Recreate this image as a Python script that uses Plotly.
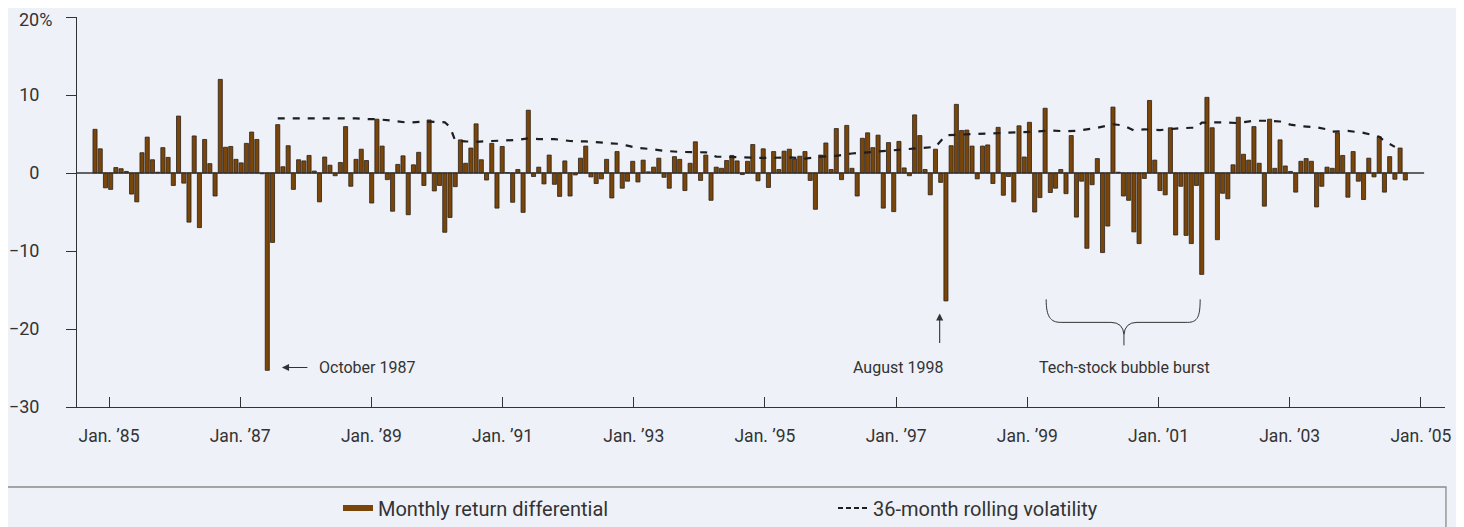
import plotly.graph_objects as go

# ---------------- data ----------------
# Monthly return differential (%), Jan 1985 .. Dec 2005 (252 months)
returns = [
    5.6, 3.1, -1.9, -2.1, 0.7, 0.55, 0.2, -2.7, -3.7, 2.6, 4.6, 1.7, 0.1, 3.25, 2.0, -1.6, 7.3, -1.3, -6.3, 4.75, -7.0, 4.3, 1.2, -2.95, 12.0,
    3.3, 3.4, 1.75, 1.3, 3.8, 5.25, 4.3, -0.1, -25.3, -8.9, 6.2, 0.8, 3.5, -2.1, 1.7, 1.55, 2.25, 0.25, -3.7, 2.05, 1.0, -0.35, 1.35, 5.95, -1.7,
    1.75, 3.05, 1.6, -3.85, 6.9, 3.45, -0.85, -4.9, 1.1, 2.2, -5.35, 1.05, 2.65, -1.6, 6.8, -2.3, -1.6, -7.6, -5.7, -1.75, 4.25, 1.25, 3.2, 6.3, 1.7,
    -0.9, 3.8, -4.5, 3.4, 0.05, -3.75, 0.45, -5.05, 8.05, -0.45, 0.75, -1.4, 2.3, -1.45, -3.0, 1.55, -2.95, -0.25, 1.9, 3.45, -0.5, -1.35, -0.75, 1.75, -3.2,
    2.75, -1.95, -1.05, 1.5, -1.15, 1.65, 0.15, 0.75, 1.9, -0.55, -1.95, 2.1, 1.75, -2.25, 1.25, 4.0, -0.95, 2.3, -3.5, 0.75, 0.6, 1.6, 2.25, 1.55, -0.2,
    1.5, 3.65, -1.0, 3.1, -1.85, 2.75, 0.45, 2.8, 3.05, 1.8, 2.15, 2.75, -0.95, -4.65, 2.3, 3.85, 0.45, 5.7, -0.85, 6.1, 0.6, -2.95, 4.45, 5.15, 3.25,
    4.85, -4.5, 3.9, -4.95, 4.05, 0.65, -0.35, 7.45, 4.8, 0.45, -2.8, 3.05, -1.2, -16.4, 3.5, 8.8, 5.45, 5.5, 3.45, -0.75, 3.45, 3.6, -1.35, 5.85, -2.85,
    -0.45, -3.7, 6.05, 2.05, 6.5, -5.0, -3.15, 8.3, -2.5, -1.95, 0.45, -2.65, 4.8, -5.65, -1.05, -9.65, -1.5, 1.85, -10.2, -6.8, 8.45, 0.1, -2.95, -3.5, -7.55,
    -9.05, -0.7, 9.3, 1.65, -2.25, -2.8, 5.8, -7.95, -1.7, -8.0, -9.05, -1.6, -13.0, 9.7, 5.8, -8.55, -2.6, -3.3, 1.05, 7.15, 2.4, 1.65, 5.95, 1.25, -4.25,
    6.9, 0.6, 4.25, 0.9, 0.2, -2.45, 1.5, 1.85, 1.5, -4.35, -1.7, 0.75, 0.6, 5.15, 2.25, -3.1, 2.75, -1.05, -3.4, 1.9, -0.5, 4.65, -2.45, 2.1, -0.8,
    3.2, -0.9,
]
month_index = list(range(len(returns)))  # 0 = Jan 1985

# 36-month rolling volatility (%), read at these month indices
vol_month = [35, 38, 41, 44, 47, 50, 52, 54, 57, 60, 63, 66, 67, 68, 69, 71, 73, 76, 79, 81,
             83, 85, 88, 91, 94, 97, 100, 102, 104, 106, 109, 112, 115, 117, 119, 121, 124, 127, 130, 133,
             136, 139, 142, 145, 148, 151, 154, 157, 161, 163, 165, 168, 171, 174, 177, 180, 183, 186, 188, 190,
             192, 195, 197, 199, 201, 204, 207, 210, 211, 212, 216, 219, 222, 225, 227, 229, 231, 234, 236, 237,
             240, 243, 246, 247, 249]
vol_value = [7.0, 7.0, 7.0, 6.95, 7.0, 7.0, 6.9, 6.9, 6.7, 6.45, 6.6, 6.5, 6.5, 5.9, 4.15, 4.05, 4.0, 4.1, 4.15, 4.25,
             4.45, 4.35, 4.35, 4.1, 4.05, 3.9, 3.75, 3.5, 3.2, 3.1, 2.85, 2.7, 2.7, 2.65, 2.1, 2.05, 1.95, 1.95, 1.95, 2.0,
             1.85, 2.1, 2.2, 2.5, 2.65, 2.8, 2.95, 3.15, 3.35, 4.85, 4.9, 5.0, 5.1, 5.1, 5.2, 5.3, 5.45, 5.35, 5.4, 5.6,
             5.8, 6.25, 6.1, 5.45, 5.6, 5.5, 5.7, 5.8, 5.8, 6.45, 6.5, 6.4, 6.7, 6.7, 6.6, 6.2, 6.0, 5.85, 5.6, 5.3,
             5.4, 5.15, 4.65, 4.1, 3.35]

x_tick_text = ["Jan. \u201985", "Jan. \u201987", "Jan. \u201989", "Jan. \u201991", "Jan. \u201993", "Jan. \u201995",
               "Jan. \u201997", "Jan. \u201999", "Jan. \u201901", "Jan. \u201903", "Jan. \u201905"]
y_tick_vals = [20, 10, 0, -10, -20, -30]
y_tick_text = ["", "10", "0", "\u221210", "\u221220", "\u221230"]
y_top_label = "20%"

series_names = ["Monthly return differential", "36-month rolling volatility"]

# ---------------- style ----------------
BROWN = "#7A4508"
INK = "#333333"
BG = "#EEF1F8"
FONT = "Roboto, 'Liberation Sans', Arial, sans-serif"
X_RANGE = [-3.45, 258.6]
x_tick_pos = [2.68 + 25.13 * k for k in range(len(x_tick_text))]

fig = go.Figure()
fig.add_bar(
    x=month_index, y=returns, showlegend=False, hoverinfo="skip",
    marker=dict(color=BROWN, line=dict(color="#2B2118", width=0.8)),
)
fig.add_scatter(
    x=vol_month, y=vol_value, mode="lines", showlegend=False, hoverinfo="skip",
    line=dict(color="#1E1E1E", width=2.2, dash="7px,8px"),
)
# legend-only entries
fig.add_scatter(x=[None], y=[None], mode="lines", name=series_names[0],
                line=dict(color=BROWN, width=6))
fig.add_scatter(x=[None], y=[None], mode="lines", name=series_names[1],
                line=dict(color="#1E1E1E", width=2, dash="5px,3px"))

W, H = 1464, 527
fig.update_layout(
    width=W, height=H,
    margin=dict(l=69, r=27, t=9, b=128, autoexpand=False),
    paper_bgcolor=BG, plot_bgcolor=BG,
    font=dict(family=FONT, color=INK, size=16),
    bargap=0.22,
    showlegend=True,
    legend=dict(
        orientation="h", xref="container", yref="container",
        x=330 / W, y=(H - 500) / H, xanchor="left", yanchor="middle",
        entrywidth=450, entrywidthmode="pixels",
        font=dict(size=20, color=INK), bgcolor="rgba(0,0,0,0)", borderwidth=0,
    ),
    xaxis=dict(
        range=X_RANGE, tickmode="array", tickvals=x_tick_pos, ticktext=x_tick_text,
        ticks="inside", ticklen=10, tickwidth=1, tickcolor=INK,
        showline=True, linecolor=INK, linewidth=1, automargin=False,
        showgrid=False, zeroline=False, tickfont=dict(size=17.5, color=INK),
        ticklabelstandoff=13, ticklabeloverflow="allow",
    ),
    yaxis=dict(
        range=[-30, 20], tickmode="array", tickvals=y_tick_vals, ticktext=y_tick_text,
        ticks="outside", ticklen=10, tickwidth=1, tickcolor=INK,
        showline=True, linecolor=INK, linewidth=1, automargin=False,
        showgrid=False, zeroline=False, tickfont=dict(size=18, color=INK),
        ticklabelstandoff=23, ticklabeloverflow="allow",
    ),
)

# zero line (stops short of the right end, as in the reference)
fig.add_shape(type="line", xref="x", yref="y", x0=X_RANGE[0], x1=254.6, y0=0, y1=0,
              line=dict(color=INK, width=1.5), layer="above")

# legend frame
fig.add_shape(type="rect", xref="paper", yref="paper", x0=-0.0512, x1=1.0007, y0=-0.2051, y1=-0.40,
              line=dict(color="#8A8A8A", width=1.3), fillcolor="rgba(0,0,0,0)")

# brace for tech-stock bubble
brace = ("M182.2,-16.2 C182.2,-18.4 183.0,-19.15 185.0,-19.15 L194.6,-19.15 "
         "Q196.9,-19.15 197.1,-20.7 L197.1,-22.1 M197.1,-20.7 Q197.3,-19.15 199.6,-19.15 "
         "L209.3,-19.15 C211.2,-19.15 211.7,-18.4 211.7,-16.2")
fig.add_shape(type="path", xref="x", yref="y", path=brace, line=dict(color=INK, width=1))

ann_font = dict(size=16, color=INK, family=FONT)
fig.add_annotation(x=35.8, y=-24.94, ax=27, ay=0, xref="x", yref="y", text="", showarrow=True,
                   arrowhead=2, arrowsize=1.3, arrowwidth=1.1, arrowcolor=INK)
fig.add_annotation(x=42.6, y=-24.94, xref="x", yref="y", text="October 1987", showarrow=False,
                   xanchor="left", yanchor="middle", font=ann_font)
fig.add_annotation(x=161.8, y=-18.0, ax=0, ay=31, xref="x", yref="y", text="", showarrow=True,
                   arrowhead=2, arrowsize=1.3, arrowwidth=1.1, arrowcolor=INK)
fig.add_annotation(x=153.9, y=-24.94, xref="x", yref="y", text="August 1998", showarrow=False,
                   xanchor="center", yanchor="middle", font=ann_font)
fig.add_annotation(x=197.2, y=-24.94, xref="x", yref="y", text="Tech-stock bubble burst", showarrow=False,
                   xanchor="center", yanchor="middle", font=ann_font)
# top tick label with the hanging percent sign (kept clear of the page edge)
fig.add_annotation(x=(18 - 77) / 1368, y=(407 - 19.5) / 390, xref="paper", yref="paper", text=y_top_label,
                   showarrow=False, xanchor="left", yanchor="middle", borderpad=0,
                   font=dict(size=18, color=INK, family=FONT))

fig.write_html("out.html", config={"displayModeBar": False})
